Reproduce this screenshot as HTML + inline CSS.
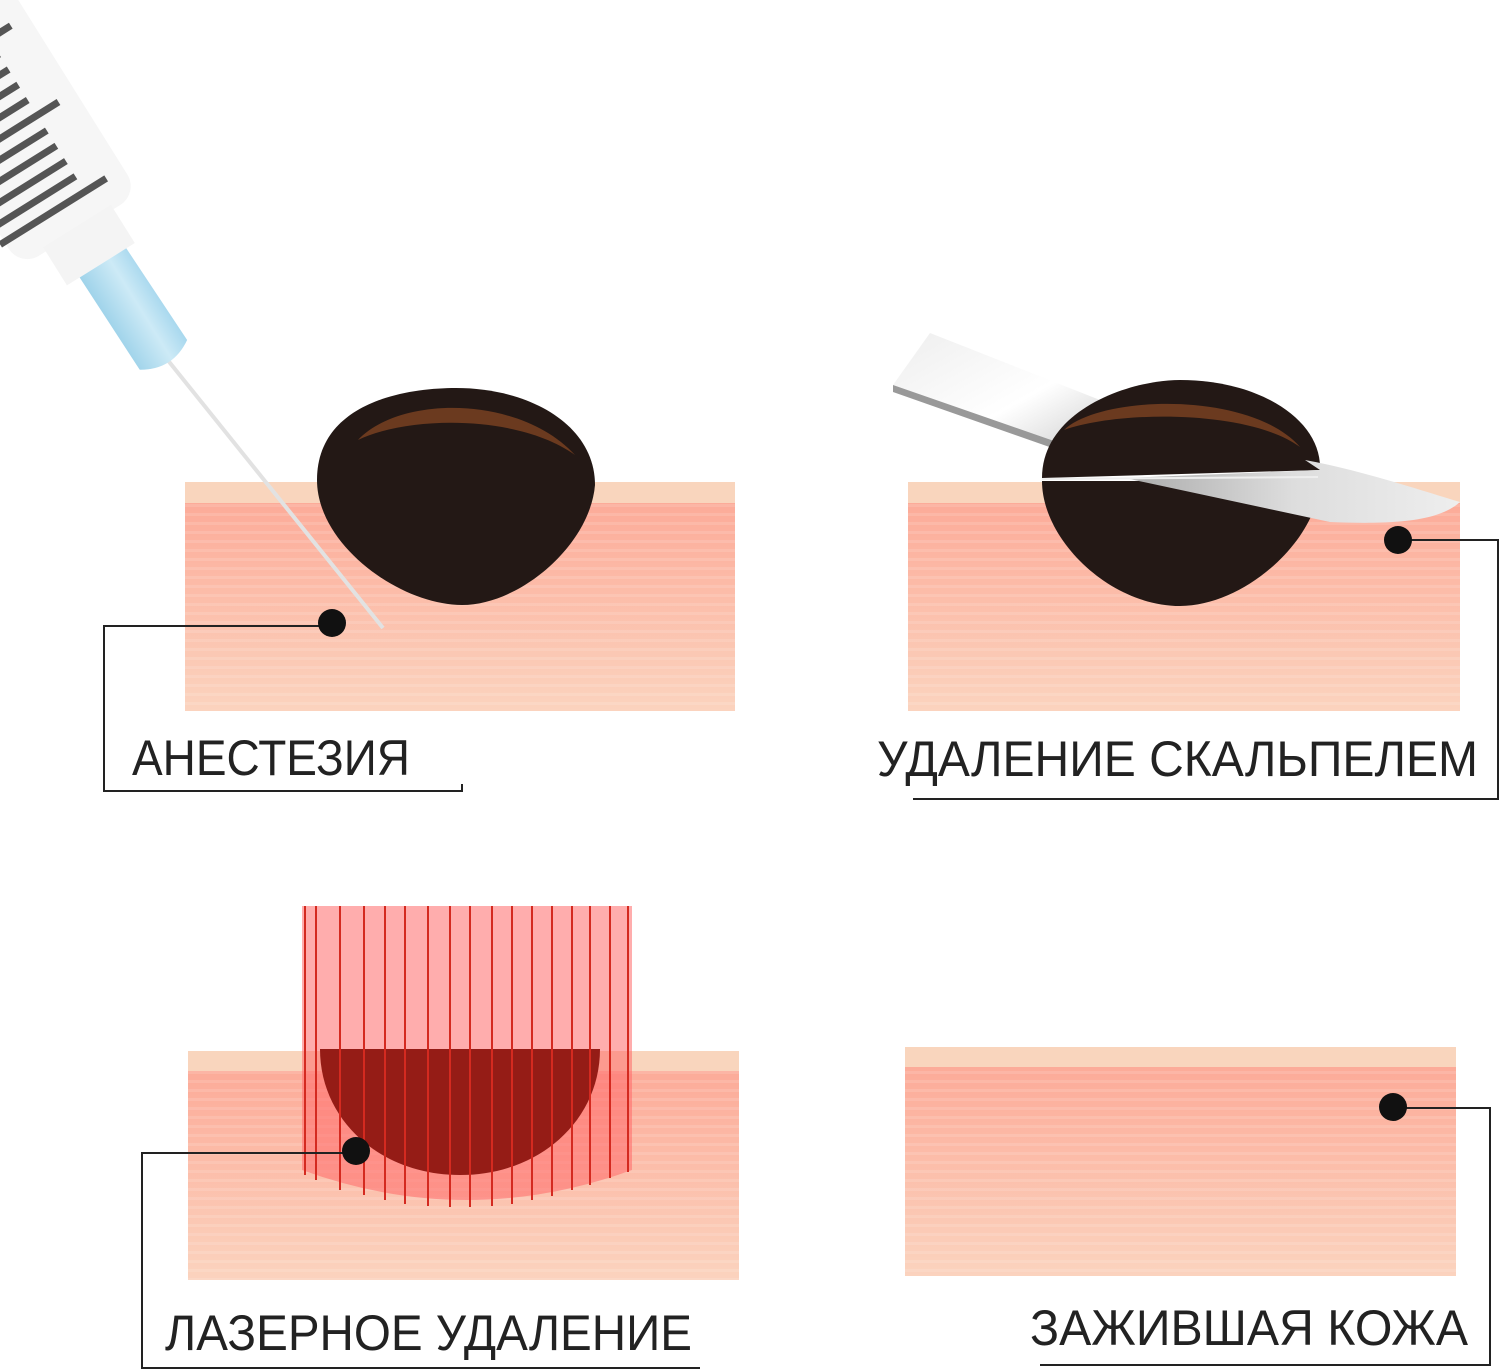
<!DOCTYPE html>
<html><head><meta charset="utf-8"><style>body{margin:0;background:#fff}svg{display:block}</style></head><body>
<svg width="1500" height="1370" viewBox="0 0 1500 1370" xmlns="http://www.w3.org/2000/svg">
<defs>
<linearGradient id="sk" x1="0" y1="0" x2="0" y2="1">
<stop offset="0" stop-color="#fca795"/><stop offset="1" stop-color="#fbd3be"/></linearGradient>
<pattern id="ln" width="10" height="9" patternUnits="userSpaceOnUse"><rect width="10" height="3" fill="#fff" opacity="0.12"/></pattern>
<linearGradient id="bl" x1="0" y1="0" x2="1" y2="1"><stop offset="0" stop-color="#eee"/><stop offset="0.6" stop-color="#fff"/><stop offset="1" stop-color="#cfcfcf"/></linearGradient>
<linearGradient id="bl2" x1="0" y1="0" x2="1" y2="0"><stop offset="0" stop-color="#aaa"/><stop offset="0.5" stop-color="#ddd"/><stop offset="1" stop-color="#eee"/></linearGradient>
<linearGradient id="hub" x1="0" y1="0" x2="1" y2="0"><stop offset="0" stop-color="#9fd3ea"/><stop offset="0.6" stop-color="#cdeaf6"/><stop offset="1" stop-color="#a8d8ee"/></linearGradient>
</defs>
<style>text{font-family:"Liberation Sans","DejaVu Sans",sans-serif;font-size:50px;fill:#222}</style>

<g>
<rect x="185" y="482" width="550" height="229" fill="url(#sk)"/><rect x="185" y="482" width="550" height="229" fill="url(#ln)"/><rect x="185" y="482" width="550" height="21" fill="#f9d5bd"/>
<rect x="908" y="482" width="552" height="229" fill="url(#sk)"/><rect x="908" y="482" width="552" height="229" fill="url(#ln)"/><rect x="908" y="482" width="552" height="21" fill="#f9d5bd"/>
<rect x="188" y="1051" width="551" height="229" fill="url(#sk)"/><rect x="188" y="1051" width="551" height="229" fill="url(#ln)"/><rect x="188" y="1051" width="551" height="20" fill="#f9d5bd"/>
<rect x="905" y="1047" width="551" height="229" fill="url(#sk)"/><rect x="905" y="1047" width="551" height="229" fill="url(#ln)"/><rect x="905" y="1047" width="551" height="20" fill="#f9d5bd"/>
</g>

<line x1="158" y1="348" x2="383" y2="628" stroke="#e2e2e2" stroke-width="4"/>
<g transform="translate(121,287) rotate(-32)">
<rect x="-75" y="-420" width="140" height="350" rx="22" fill="#f6f6f6"/>
<rect x="-45" y="-75" width="80" height="45" fill="#f4f4f4"/>
<path d="M-30 -30 L25 -30 L28 80 Q0 98 -28 80 Z" fill="url(#hub)"/>
<g stroke="#555" stroke-width="7">
<line x1="-80" y1="-100" x2="45" y2="-100"/>
<line x1="-80" y1="-118" x2="20" y2="-118"/>
<line x1="-80" y1="-136" x2="20" y2="-136"/>
<line x1="-80" y1="-154" x2="20" y2="-154"/>
<line x1="-80" y1="-172" x2="20" y2="-172"/>
<line x1="-80" y1="-190" x2="45" y2="-190"/>
<line x1="-80" y1="-208" x2="20" y2="-208"/>
<line x1="-80" y1="-226" x2="20" y2="-226"/>
<line x1="-80" y1="-244" x2="20" y2="-244"/>
<line x1="-80" y1="-262" x2="20" y2="-262"/>
<line x1="-80" y1="-280" x2="45" y2="-280"/>
<line x1="-80" y1="-298" x2="20" y2="-298"/>
<line x1="-80" y1="-316" x2="20" y2="-316"/>
</g>
</g>

<path d="M317 480 C317 405 400 388 456 388 C530 388 595 425 595 485 C590 545 520 605 462 605 C400 605 317 545 317 480Z" fill="#231815"/>
<path d="M358 440 C400 395 520 395 575 455 C520 415 410 415 358 440Z" fill="#6b3a1f"/>

<path d="M893 385 L930 333 L1100 400 L1080 450 Z" fill="url(#bl)"/>
<path d="M893 385 L1080 450 L1078 457 L893 392Z" fill="#999"/>
<path d="M1042 478 C1042 410 1130 380 1180 380 C1260 380 1322 420 1320 470 L1042 478Z" fill="#231815"/>
<path d="M1064 430 C1100 395 1250 390 1300 447 C1250 410 1120 410 1064 430Z" fill="#6b3a1f"/>
<path d="M1042 481 L1320 481 C1318 540 1245 606 1180 606 C1110 606 1042 540 1042 481Z" fill="#231815"/>
<path d="M1125 478 L1320 470 L1305 460 C1360 470 1420 490 1460 502 C1440 520 1400 525 1330 522 Z" fill="url(#bl2)"/>
<line x1="1042" y1="479" x2="1318" y2="477" stroke="#eee" stroke-width="2"/>

<path d="M302 906 L632 906 L632 1170 Q467 1230 302 1170 Z" fill="#ff6a6a" opacity="0.55"/>
<path d="M320 1049 L600 1049 C600 1120 540 1175 460 1175 C380 1175 320 1120 320 1049Z" fill="#951c16"/>
<g stroke="#d42a20" stroke-width="2">
<line x1="305" y1="906" x2="305" y2="1175"/><line x1="316" y1="906" x2="316" y2="1180"/><line x1="340" y1="906" x2="340" y2="1190"/><line x1="364" y1="906" x2="364" y2="1195"/><line x1="385" y1="906" x2="385" y2="1200"/><line x1="405" y1="906" x2="405" y2="1204"/><line x1="428" y1="906" x2="428" y2="1206"/><line x1="450" y1="906" x2="450" y2="1207"/><line x1="470" y1="906" x2="470" y2="1207"/><line x1="492" y1="906" x2="492" y2="1206"/><line x1="512" y1="906" x2="512" y2="1204"/><line x1="532" y1="906" x2="532" y2="1200"/><line x1="552" y1="906" x2="552" y2="1196"/><line x1="572" y1="906" x2="572" y2="1190"/><line x1="590" y1="906" x2="590" y2="1185"/><line x1="610" y1="906" x2="610" y2="1178"/><line x1="628" y1="906" x2="628" y2="1172"/>
</g>

<g fill="none" stroke="#222" stroke-width="2">
<polyline points="332,626 104,626 104,791 462,791 462,784"/>
<polyline points="1398,540 1498,540 1498,799 913,799"/>
<polyline points="356,1153 142,1153 142,1368 700,1368"/>
<polyline points="1393,1108 1490,1108 1490,1365 1040,1365"/>
</g>
<g fill="#111"><circle cx="332" cy="623" r="14"/><circle cx="1398" cy="540" r="14"/><circle cx="356" cy="1151" r="14"/><circle cx="1393" cy="1107" r="14"/></g>

<text x="132" y="775" textLength="278" lengthAdjust="spacingAndGlyphs">АНЕСТЕЗИЯ</text>
<text x="877" y="776" textLength="601" lengthAdjust="spacingAndGlyphs">УДАЛЕНИЕ СКАЛЬПЕЛЕМ</text>
<text x="165" y="1350" textLength="527" lengthAdjust="spacingAndGlyphs">ЛАЗЕРНОЕ УДАЛЕНИЕ</text>
<text x="1030" y="1345" textLength="438" lengthAdjust="spacingAndGlyphs">ЗАЖИВШАЯ КОЖА</text>
</svg>
</body></html>
